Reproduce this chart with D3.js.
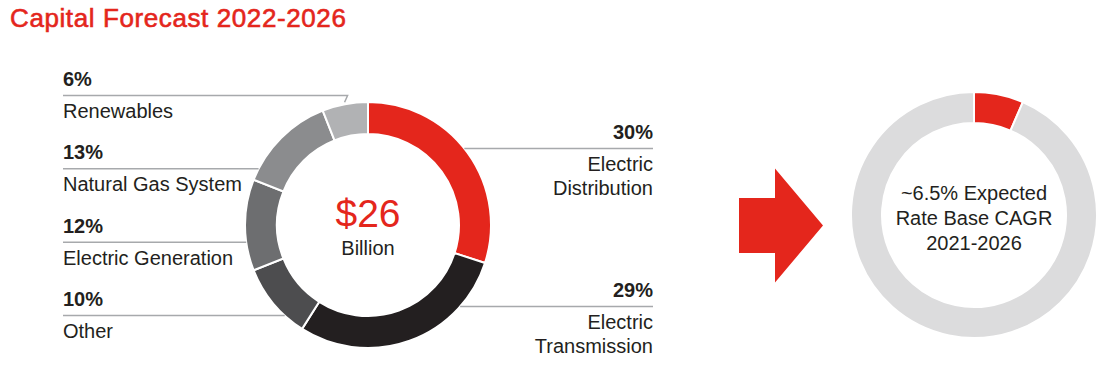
<!DOCTYPE html>
<html>
<head>
<meta charset="utf-8">
<script src="https://cdn.jsdelivr.net/npm/d3@7/dist/d3.min.js"></script>
<style>
  html, body { margin: 0; padding: 0; background: #fff; }
  text { font-family: "Liberation Sans", Arial, Helvetica, sans-serif; }
</style>
</head>
<body>
<div id="chart"></div>
<script>
// capital forecast split, clockwise from 12 o'clock
const categories = ['Electric Distribution', 'Electric Transmission', 'Other', 'Electric Generation', 'Natural Gas System', 'Renewables'];
const shares = [30, 29, 10, 12, 13, 6];
const nameLines = [['Electric', 'Distribution'], ['Electric', 'Transmission'], ['Other'], ['Electric Generation'], ['Natural Gas System'], ['Renewables']];
const totalLabel = ['$26', 'Billion'];

// rate base growth ring
const rateBase = [6.5, 93.5];
const rateBaseLabel = ['~6.5% Expected', 'Rate Base CAGR', '2021-2026'];

const title = 'Capital Forecast 2022-2026';

const RED = '#e4261c';
const DARK = '#231f20';
const sliceColors = [RED, '#231f20', '#4d4d4f', '#6d6e70', '#8b8c8e', '#b1b2b4'];

const width = 1101, height = 375;

const svg = d3.select('#chart').append('svg')
  .attr('width', width)
  .attr('height', height);

// medium-weight look: regular face with a thin stroke
svg.append('text')
  .attr('x', 10)
  .attr('y', 27)
  .attr('fill', RED)
  .attr('stroke', RED)
  .attr('stroke-width', 0.6)
  .attr('font-size', '26px')
  .attr('letter-spacing', '0.6px')
  .text(title);

// ---- main donut
const cx = 368, cy = 225, R = 123, r = 91;
const pie = d3.pie().sort(null).value(d => d);
const arc = d3.arc().innerRadius(r).outerRadius(R);
const arcs = pie(shares);

const g = svg.append('g').attr('transform', 'translate(' + cx + ',' + cy + ')');

g.selectAll('path.slice')
  .data(arcs)
  .join('path')
  .attr('class', 'slice')
  .attr('d', arc)
  .attr('fill', (d, i) => sliceColors[i])
  .attr('stroke', '#fff')
  .attr('stroke-width', 2);

g.append('text')
  .attr('text-anchor', 'middle')
  .attr('y', 2)
  .attr('fill', RED)
  .attr('font-size', '39px')
  .text(totalLabel[0]);

g.append('text')
  .attr('text-anchor', 'middle')
  .attr('y', 30)
  .attr('fill', DARK)
  .attr('font-size', '20px')
  .text(totalLabel[1]);

// ---- labels
// left column from top: Renewables, Natural Gas, Generation, Other
const leftOrder = [5, 4, 3, 2];
const rightOrder = [0, 1];
const leftX = 63, rightX = 653;
const leftBase = d3.scalePoint().domain(leftOrder).range([86, 306]);
const rightBase = d3.scalePoint().domain(rightOrder).range([139, 297]);

const lineColor = '#a7a9ac';
const labels = svg.append('g');

function edgeX(y, side) {
  const dy = y - cy;
  if (Math.abs(dy) >= R) return null;
  return cx + side * Math.sqrt(R * R - dy * dy);
}

function drawLabel(i, side) {
  const base = side < 0 ? leftBase(i) : rightBase(i);
  const tx = side < 0 ? leftX : rightX;
  const anchor = side < 0 ? 'start' : 'end';
  const ly = base + 9.5;

  labels.append('text')
    .attr('x', tx).attr('y', base)
    .attr('text-anchor', anchor)
    .attr('fill', DARK)
    .attr('font-size', '20px')
    .attr('font-weight', 'bold')
    .text(d3.format('d')(shares[i]) + '%');

  nameLines[i].forEach((s, k) => {
    labels.append('text')
      .attr('x', tx).attr('y', base + 32 + k * 23.5)
      .attr('text-anchor', anchor)
      .attr('fill', DARK)
      .attr('font-size', '20px')
      .text(s);
  });

  let pts;
  const ex = edgeX(ly, side);
  if (ex !== null) {
    pts = [[tx, ly], [ex, ly]];
  } else {
    // above the ring: bend down to the slice
    const a = (arcs[i].startAngle + arcs[i].endAngle) / 2;
    const px = cx + (R + 2) * Math.sin(a), py = cy - (R + 2) * Math.cos(a);
    pts = [[tx, ly], [px - side * 3, ly], [px, py]];
  }
  labels.append('path')
    .attr('d', d3.line()(pts))
    .attr('fill', 'none')
    .attr('stroke', lineColor)
    .attr('stroke-width', 1.5);
}

leftOrder.forEach(i => drawLabel(i, -1));
rightOrder.forEach(i => drawLabel(i, 1));

// ---- arrow
const ax = 739, ay = 225.5;
const arrowPts = [[0, -27.5], [36, -27.5], [36, -57], [84, 0], [36, 57], [36, 27.5], [0, 27.5]];
svg.append('path')
  .attr('d', d3.line()(arrowPts.map(p => [ax + p[0], ay + p[1]])) + 'Z')
  .attr('fill', RED);

// ---- rate base donut
const cx2 = 974, cy2 = 215;
const arc2 = d3.arc().innerRadius(92).outerRadius(123);
const g2 = svg.append('g').attr('transform', 'translate(' + cx2 + ',' + cy2 + ')');

g2.selectAll('path')
  .data(pie(rateBase))
  .join('path')
  .attr('d', arc2)
  .attr('fill', (d, i) => i === 0 ? RED : '#dcdcdd')
  .attr('stroke', '#fff')
  .attr('stroke-width', 2);

g2.selectAll('text')
  .data(rateBaseLabel)
  .join('text')
  .attr('text-anchor', 'middle')
  .attr('y', (d, i) => -15 + i * 25)
  .attr('fill', DARK)
  .attr('font-size', '20px')
  .text(d => d);
</script>
</body>
</html>
